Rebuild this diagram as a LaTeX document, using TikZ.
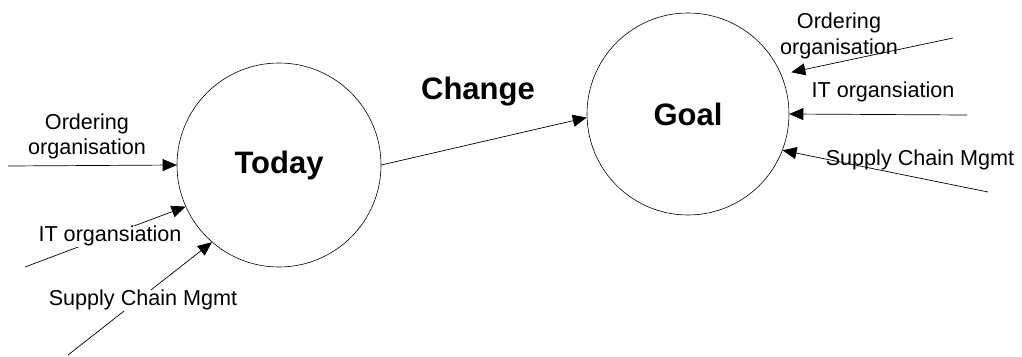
\documentclass[tikz,border=0pt]{standalone}
\usepackage{fontspec}
\setmainfont{Liberation Sans}
\usetikzlibrary{arrows.meta,calc}
\begin{document}
\begin{tikzpicture}[x=1pt,y=-1pt,
  state/.style={circle,draw,line width=0.6pt,inner sep=0pt,font=\fontsize{31}{36}\selectfont\bfseries},
  lbl/.style={font=\fontsize{21.6}{24.8}\selectfont,inner sep=0pt,text height=16pt,text depth=5pt},
  twoline/.style={font=\fontsize{21.6}{25.8}\selectfont,inner sep=0pt,align=center},
  cut/.style={lbl,fill=white},
  flow/.style={line width=0.7pt,-{Triangle[length=14pt,width=12pt]}}]
\useasboundingbox (0,0) rectangle (1022,356);

% the two states
\node[state,minimum size=204pt] (today) at (279,165) {Today};
\node[state,minimum size=202pt] (goal) at (688,114) {Goal};

% transition between them
\draw[flow] (today.0) -- (goal.182);
\node[font=\fontsize{31}{36}\selectfont\bfseries] (change) at (478,92) {Change};

% inputs to the current state
\coordinate (lo) at (8,166);
\coordinate (li) at (25,267);
\coordinate (ls) at (68,355);
\draw[flow] (lo) -- (today.180);
\draw[flow] (li) -- (today.204);
\draw[flow] (ls) -- (today.229);
\node[twoline] (lotext) at (87,136.5) {Ordering\\organisation};
\node[cut] (litext) at (110,236) {IT organsiation};
\node[cut] (lstext) at (143,300) {Supply Chain Mgmt};

% inputs to the target state
\node[twoline] (rotext) at (839,36) {Ordering\\organisation};
\node[lbl] (ritext) at (883,92) {IT organsiation};
\node[lbl] (rstext) at (920,160) {Supply Chain Mgmt};
\coordinate (ro) at (953,38);
\coordinate (ri) at (967,115);
\coordinate (rs) at (988,192);
\draw[flow] (ro) -- ($(goal.center)!1.1!(goal.22)$);
\draw[flow] (ri) -- (goal.0);
\draw[flow] (rs) -- (goal.-21);
\end{tikzpicture}
\end{document}
